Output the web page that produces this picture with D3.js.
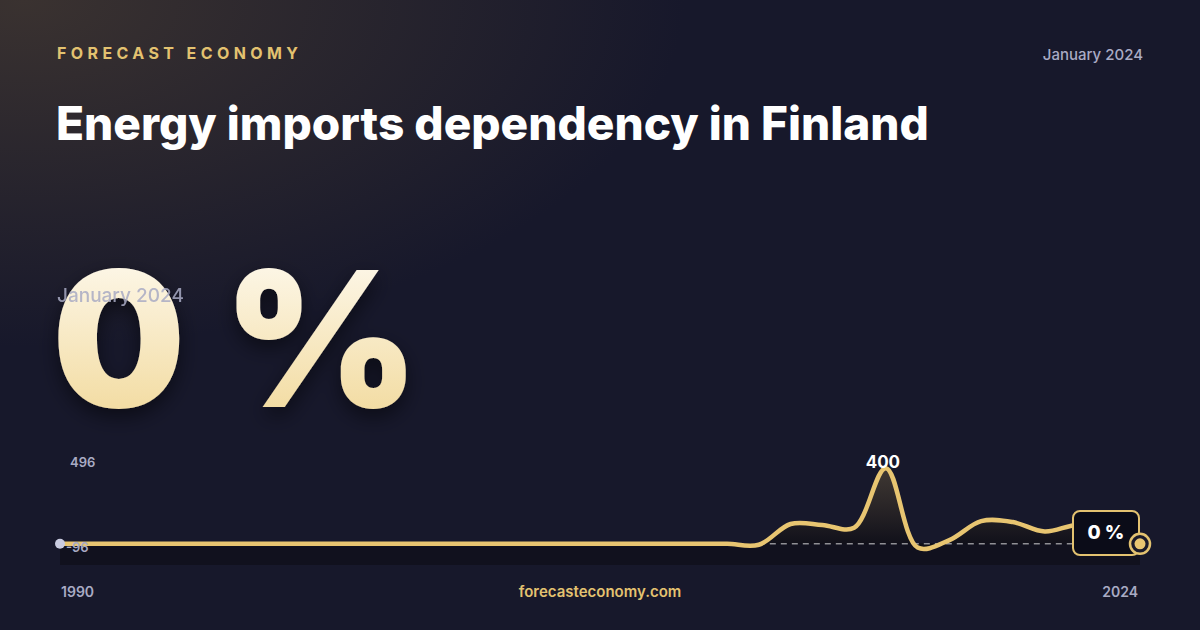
<!DOCTYPE html>
<html><head><meta charset="utf-8">
<script src="https://cdn.jsdelivr.net/npm/d3@7"></script>
<style>
body{margin:0;width:1200px;height:630px;overflow:hidden;background:#161729;font-family:Inter,"Noto Sans",sans-serif}
svg{display:block}
</style></head><body>
<svg id="c" width="1200" height="630"></svg>
<script>
// annual values, 1990..2024
const years = d3.range(1990, 2025);
const values = [0,0,0,0,0,0,0,0,0,0, 0,0,0,0,0,0,0,0,0,0, 0,0,-5,105,100,85,400,-20,20,120,115,65,100,90,0];
const yTicks = [496, -96];
const xTicks = [1990, 2024];

const svg = d3.select('#c');
const defs = svg.append('defs');

const bg = defs.append('radialGradient').attr('id', 'bg').attr('cx', 0.02).attr('cy', 0).attr('r', 0.55);
bg.append('stop').attr('offset', 0).attr('stop-color', '#3a3230');
bg.append('stop').attr('offset', 1).attr('stop-color', '#17182b');
svg.append('rect').attr('width', 1200).attr('height', 630).attr('fill', '#191a2e');
svg.append('rect').attr('width', 1200).attr('height', 630).attr('fill', 'url(#bg)');

const big = defs.append('linearGradient').attr('id', 'big').attr('x1', 0).attr('y1', 0).attr('x2', 0).attr('y2', 1);
big.append('stop').attr('offset', 0).attr('stop-color', '#fffdf8');
big.append('stop').attr('offset', 1).attr('stop-color', '#f0d590');

const area = defs.append('linearGradient').attr('id', 'area').attr('x1', 0).attr('y1', 0).attr('x2', 0).attr('y2', 1);
area.append('stop').attr('offset', 0).attr('stop-color', '#4a4035').attr('stop-opacity', 0.8);
area.append('stop').attr('offset', 1).attr('stop-color', '#0c0c16').attr('stop-opacity', 0.9);

const shadow = defs.append('filter').attr('id', 'sh').attr('x', -0.2).attr('y', -0.2).attr('width', 1.4).attr('height', 1.4);
shadow.append('feDropShadow').attr('dx', 0).attr('dy', 8).attr('stdDeviation', 10).attr('flood-color', '#000').attr('flood-opacity', 0.5);

svg.append('text').attr('x', 57).attr('y', 59).text('FORECAST ECONOMY')
  .attr('fill', '#e3c270').attr('font-size', 16).attr('font-weight', 700).attr('letter-spacing', 4.4);
svg.append('text').attr('x', 1143).attr('y', 60).attr('text-anchor', 'end').text('January 2024')
  .attr('fill', '#a9abc4').attr('font-size', 15).attr('font-weight', 500);
svg.append('text').attr('x', 56).attr('y', 140).text('Energy imports dependency in Finland')
  .attr('fill', '#ffffff').attr('font-size', 46).attr('font-weight', 800);

svg.append('text').attr('x', 52).attr('y', 407).text('0 %')
  .attr('fill', 'url(#big)').attr('font-size', 188).attr('font-weight', 900).attr('filter', 'url(#sh)');
svg.append('text').attr('x', 57).attr('y', 302).text('January 2024')
  .attr('fill', '#a9abc4').attr('font-size', 19).attr('font-weight', 500).attr('opacity', 0.85);

const x = d3.scaleLinear().domain([1990, 2024]).range([60, 1140]);
const y = d3.scaleLinear().domain([-96, 496]).range([562, 450]);

svg.append('rect').attr('x', 60).attr('y', 543).attr('width', 1080).attr('height', 22).attr('fill', '#10101c').attr('opacity', 0.8);

const pts = years.map((yr, i) => [yr, values[i]]);
svg.append('path').datum(pts)
  .attr('d', d3.area().x(d => x(d[0])).y0(y(0)).y1(d => y(d[1])).curve(d3.curveCatmullRom))
  .attr('fill', 'url(#area)');
svg.append('line').attr('x1', x(2012)).attr('x2', 1140).attr('y1', y(0)).attr('y2', y(0))
  .attr('stroke', '#ffffff').attr('stroke-dasharray', '6,5').attr('stroke-width', 1).attr('opacity', 0.8);
svg.append('path').datum(pts)
  .attr('d', d3.line().x(d => x(d[0])).y(d => y(d[1])).curve(d3.curveCatmullRom))
  .attr('fill', 'none').attr('stroke', '#e8c571').attr('stroke-width', 4.5).attr('stroke-linecap', 'round');

svg.append('circle').attr('cx', x(1990)).attr('cy', y(0)).attr('r', 5).attr('fill', '#c9cbe0');

yTicks.forEach(t => {
  svg.append('text').attr('x', t > 0 ? 70 : 66).attr('y', y(t) + (t > 0 ? 17 : -10)).text(t)
    .attr('fill', '#a9abc4').attr('font-size', 13).attr('font-weight', 600);
});
xTicks.forEach((t, i) => {
  svg.append('text').attr('x', i ? 1138 : 61).attr('y', 597).attr('text-anchor', i ? 'end' : 'start').text(t)
    .attr('fill', '#a9abc4').attr('font-size', 14).attr('font-weight', 600);
});
svg.append('text').attr('x', 600).attr('y', 597).attr('text-anchor', 'middle').text('forecasteconomy.com')
  .attr('fill', '#e3c270').attr('font-size', 15).attr('font-weight', 600);

const peakI = values.indexOf(d3.max(values));
svg.append('text').attr('x', x(years[peakI]) - 3).attr('y', 468).attr('text-anchor', 'middle').text('400')
  .attr('fill', '#ffffff').attr('font-size', 17).attr('font-weight', 700);

// end badge
svg.append('rect').attr('x', 1073).attr('y', 511).attr('width', 66).attr('height', 44).attr('rx', 7)
  .attr('fill', '#0b0c18').attr('stroke', '#e3c270').attr('stroke-width', 2);
svg.append('text').attr('x', 1106).attr('y', 539).attr('text-anchor', 'middle').text('0 %')
  .attr('fill', '#ffffff').attr('font-size', 19).attr('font-weight', 800);
svg.append('circle').attr('cx', x(2024)).attr('cy', y(0)).attr('r', 10).attr('fill', '#1a1a2a').attr('stroke', '#e3c270').attr('stroke-width', 2.5);
svg.append('circle').attr('cx', x(2024)).attr('cy', y(0)).attr('r', 5.5).attr('fill', '#e8c571');
</script></body></html>
